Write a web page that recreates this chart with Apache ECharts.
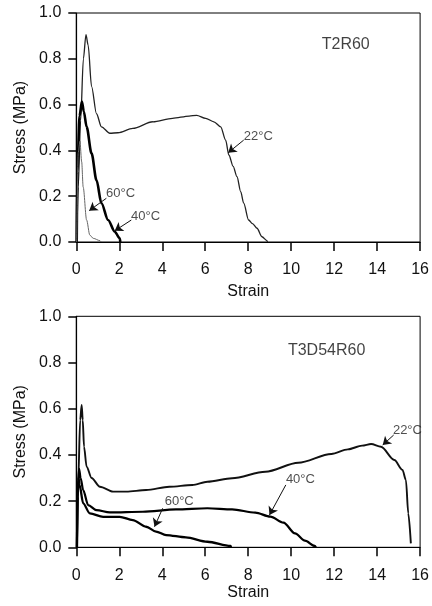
<!DOCTYPE html>
<html>
<head>
<meta charset="utf-8">
<script src="https://cdn.jsdelivr.net/npm/echarts@6/dist/echarts.min.js"></script>
<style>
  html, body { margin: 0; padding: 0; background: #fff; }
  #chart { width: 432px; height: 606px; }
</style>
</head>
<body>
<div id="chart"></div>
<script>
// T2R60 curves [strain, stress MPa]
var top22 = [[0.02,0],[0.09,0.24],[0.2,0.53],[0.33,0.8],[0.45,0.906],[0.55,0.86],[0.71,0.68],[0.94,0.56],[1.17,0.503],[1.56,0.475],[1.94,0.477],[2.63,0.496],[3.56,0.525],[4.48,0.54],[5.25,0.55],[5.6,0.553],[6.02,0.54],[6.4,0.525],[6.72,0.503],[6.95,0.445],[7.1,0.38],[7.3,0.33],[7.48,0.285],[7.65,0.22],[7.79,0.17],[8.02,0.096],[8.2,0.08],[8.41,0.06],[8.64,0.023],[8.87,0.006],[8.9,0]];
var top40 = [[0.02,0],[0.05,0.31],[0.15,0.55],[0.26,0.613],[0.35,0.57],[0.48,0.503],[0.71,0.387],[0.94,0.27],[1.17,0.169],[1.48,0.096],[1.79,0.045],[2.02,0.016],[2.05,0]];
var top60 = [[0.02,0],[0.09,0.39],[0.17,0.44],[0.25,0.35],[0.32,0.24],[0.48,0.096],[0.63,0.03],[0.79,0.016],[1.1,0.006],[1.15,0]];

// T3D54R60 curves
var bot22 = [[0.03,0],[0.09,0.29],[0.18,0.55],[0.25,0.616],[0.3,0.55],[0.36,0.435],[0.48,0.349],[0.71,0.3],[1.1,0.262],[1.71,0.241],[2.33,0.241],[3.25,0.248],[4.33,0.262],[5.4,0.27],[6.1,0.284],[7.25,0.299],[8.8,0.327],[10.33,0.366],[11.87,0.404],[12.64,0.424],[13.3,0.44],[13.72,0.447],[14.18,0.435],[14.8,0.378],[15.18,0.335],[15.34,0.291],[15.45,0.147],[15.57,0.017]];
var bot40 = [[0.03,0],[0.07,0.25],[0.13,0.34],[0.2,0.3],[0.32,0.248],[0.55,0.183],[0.94,0.161],[1.56,0.151],[3.1,0.154],[4.64,0.164],[6.1,0.169],[7.25,0.164],[8.33,0.15],[9.03,0.133],[9.64,0.107],[10.18,0.06],[10.64,0.029],[11.1,0.006],[11.15,0]];
var bot60 = [[0.03,0],[0.06,0.22],[0.1,0.3],[0.15,0.27],[0.32,0.19],[0.63,0.147],[1.25,0.132],[2.02,0.132],[2.63,0.118],[3.25,0.089],[3.71,0.068],[4.18,0.053],[5.1,0.043],[6.1,0.024],[7.18,0.006],[7.2,0]];

// labels [x, y, text] and arrows [x1, y1, x2, y2] in data units
var topLabels = [[8.47,0.459,'22°C'],[2.06,0.214,'60°C'],[3.22,0.111,'40°C']];
var topArrows = [[7.79,0.445,7.07,0.39],[1.40,0.191,0.60,0.137],[2.56,0.096,1.79,0.049]];
var topTitle = [[12.54,0.86,'T2R60']];
var botLabels = [[15.41,0.508,'22°C'],[10.43,0.296,'40°C'],[4.79,0.198,'60°C']];
var botArrows = [[14.77,0.486,14.26,0.443],[9.75,0.270,8.99,0.140],[4.02,0.169,3.64,0.089]];
var botTitle = [[11.65,0.85,'T3D54R60']];

var FONT = 'Liberation Sans, Arial, sans-serif';
var chart = echarts.init(document.getElementById('chart'));

function xAxisOpt(idx, gap) {
  return {
    type: 'value', gridIndex: idx, min: 0, max: 16, interval: 2,
    name: 'Strain', nameLocation: 'middle', nameGap: gap,
    nameTextStyle: { fontFamily: FONT, fontSize: 16, color: '#111' },
    axisLine: { show: true, lineStyle: { color: '#000', width: 1.2 } },
    axisTick: { show: true, inside: false, length: 9, lineStyle: { color: '#000', width: 1.5 } },
    axisLabel: { margin: 20, fontFamily: FONT, fontSize: 16, color: '#111' },
    splitLine: { show: false }
  };
}
function yAxisOpt(idx) {
  return {
    type: 'value', gridIndex: idx, min: 0, max: 1, interval: 0.2,
    name: 'Stress (MPa)', nameLocation: 'middle', nameGap: 45,
    nameTextStyle: { fontFamily: FONT, fontSize: 16, color: '#111' },
    axisLine: { show: true, lineStyle: { color: '#000', width: 1.2 } },
    axisTick: { show: true, inside: false, length: 8, lineStyle: { color: '#000', width: 1.5 } },
    axisLabel: { margin: 15, fontFamily: FONT, fontSize: 16, color: '#111',
      formatter: function (v) { return v.toFixed(1); } },
    splitLine: { show: false }
  };
}
function curve(idx, data, w, col) {
  return {
    type: 'line', xAxisIndex: idx, yAxisIndex: idx, data: data,
    showSymbol: false, symbol: 'none', silent: true,
    smooth: 0.3, smoothMonotone: 'x',
    lineStyle: { color: col, width: w }
  };
}
function notes(idx, labels, arrows, title) {
  return [{
    type: 'line', xAxisIndex: idx, yAxisIndex: idx, silent: true,
    data: [], showSymbol: false,
    markLine: {
      silent: true, animation: false, symbol: ['none', 'arrow'], symbolSize: 8,
      label: { show: false },
      lineStyle: { color: '#111', width: 1, type: 'solid' },
      itemStyle: { color: '#111' },
      data: arrows.map(function (a) {
        return [{ coord: [a[0], a[1]] }, { coord: [a[2], a[3]] }];
      })
    }
  }, {
    type: 'scatter', xAxisIndex: idx, yAxisIndex: idx, symbolSize: 0, silent: true,
    data: labels,
    label: { show: true, position: 'inside', fontFamily: FONT, fontSize: 13, color: '#222',
      formatter: function (p) { return p.data[2]; } }
  }, {
    type: 'scatter', xAxisIndex: idx, yAxisIndex: idx, symbolSize: 0, silent: true,
    data: title,
    label: { show: true, position: 'inside', fontFamily: FONT, fontSize: 16, color: '#111',
      formatter: function (p) { return p.data[2]; } }
  }];
}

chart.setOption({
  animation: false,
  backgroundColor: '#fff',
  grid: [
    { left: 76.3, top: 13, width: 346.4, height: 229, show: true, borderColor: '#000', borderWidth: 1 },
    { left: 76.3, top: 316.3, width: 347, height: 231, show: true, borderColor: '#000', borderWidth: 1 }
  ],
  xAxis: [xAxisOpt(0, 42), xAxisOpt(1, 35)],
  yAxis: [yAxisOpt(0), yAxisOpt(1)],
  series: [
    curve(0, top22, 1.3, '#222'),
    curve(0, top40, 2.6, '#000'),
    curve(0, top60, 1, '#666'),
    curve(1, bot22, 1.9, '#111'),
    curve(1, bot40, 2.2, '#000'),
    curve(1, bot60, 2.3, '#000')
  ].concat(notes(0, topLabels, topArrows, topTitle))
   .concat(notes(1, botLabels, botArrows, botTitle))
});
</script>
</body>
</html>
